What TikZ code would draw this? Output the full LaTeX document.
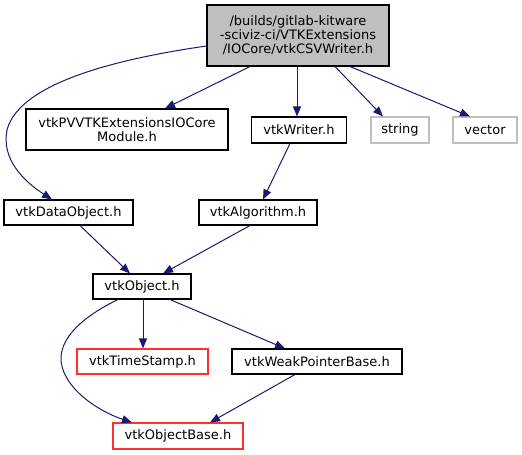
\documentclass[tikz,border=0pt]{standalone}
\usepackage{fontspec}
\setmainfont{DejaVu Sans}
\usetikzlibrary{arrows.meta}
\definecolor{edgeblue}{HTML}{191970}
\definecolor{topgray}{HTML}{BFBFBF}
\definecolor{lightgray}{HTML}{BFBFBF}
\definecolor{boxred}{HTML}{FF3030}
\tikzset{
  box/.style={draw=black, line width=1.05pt, inner sep=0pt, align=center,
    font=\fontsize{13pt}{14pt}\selectfont},
  graybox/.style={box, draw=lightgray},
  redbox/.style={box, draw=boxred},
  dep/.style={draw=edgeblue, line width=1pt,
    -{Triangle[length=10pt,width=8pt,fill=edgeblue]}},
}
\begin{document}
\begin{tikzpicture}[x=1pt,y=-1pt]
\useasboundingbox (0,0) rectangle (522,455);
\node[box, fill=topgray, minimum width=182pt, minimum height=61pt] (top) at (298,35.5)
  {/builds/gitlab-kitware\\-sciviz-ci/VTKExtensions\\/IOCore/vtkCSVWriter.h};
\node[box, minimum width=202pt, minimum height=41pt] (pv) at (127,129.5)
  {vtkPVVTKExtensionsIOCore\\Module.h};
\node[box, minimum width=95pt, minimum height=26pt] (writer) at (299,130) {vtkWriter.h};
\node[graybox, minimum width=58pt, minimum height=26pt] (string) at (400,130) {string};
\node[graybox, minimum width=64pt, minimum height=26pt] (vector) at (485,130) {vector};
\node[box, minimum width=129pt, minimum height=25pt] (dataobj) at (68.5,212.5) {vtkDataObject.h};
\node[box, minimum width=118pt, minimum height=25pt] (algo) at (258,212.5) {vtkAlgorithm.h};
\node[box, minimum width=98pt, minimum height=25pt] (obj) at (142,286.5) {vtkObject.h};
\node[redbox, minimum width=131pt, minimum height=25pt] (ts) at (142.5,361.5) {vtkTimeStamp.h};
\node[box, minimum width=170pt, minimum height=25pt] (weak) at (317,361.5) {vtkWeakPointerBase.h};
\node[redbox, minimum width=130pt, minimum height=26pt] (base) at (178,436) {vtkObjectBase.h};

\draw[dep] (top.west |- 0,46) .. controls (130,57) and (20,80) .. (7,130)
  .. controls (1,160) and (25,182) .. (dataobj.north -| 52,0);
\draw[dep] (top.south -| 250,0) -- (pv.north -| 165,0);
\draw[dep] (top.south -| 297,0) -- (writer.north -| 297,0);
\draw[dep] (top.south -| 335,0) -- (string.north -| 383,0);
\draw[dep] (top.south -| 350,0) -- (vector.north -| 470,0);
\draw[dep] (writer.south -| 290,0) -- (algo.north -| 263,0);
\draw[dep] (dataobj.south -| 80,0) -- (obj.north -| 130,0);
\draw[dep] (algo.south -| 250,0) -- (obj.north -| 163,0);
\draw[dep] (obj.south -| 143,0) -- (ts.north -| 143,0);
\draw[dep] (obj.south -| 170,0) -- (weak.north -| 285,0);
\draw[dep] (obj.south -| 118,0) .. controls (80,318) and (62,338) .. (61,357)
  .. controls (60,385) and (95,410) .. (base.north -| 132,0);
\draw[dep] (weak.south -| 295,0) -- (base.north -| 210,0);
\end{tikzpicture}
\end{document}
